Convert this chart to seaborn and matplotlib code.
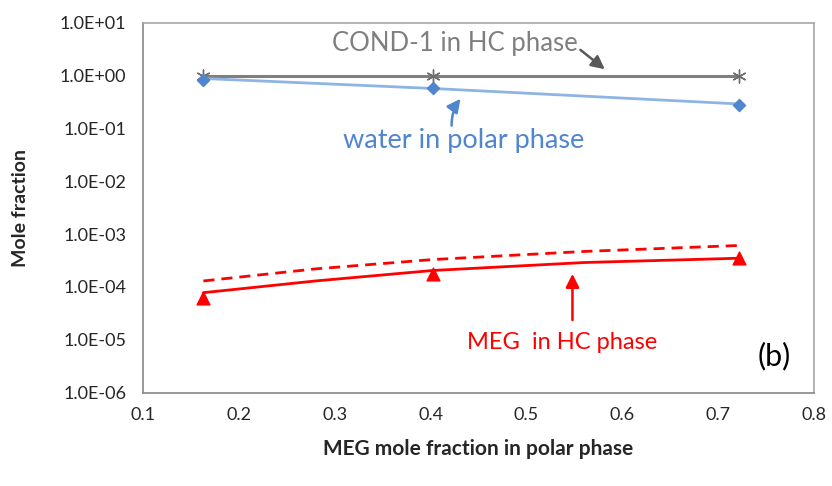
import numpy as np
import pandas as pd
import matplotlib
matplotlib.use("Agg")
import matplotlib.pyplot as plt
import seaborn as sns
from matplotlib.ticker import LogLocator, MultipleLocator, FuncFormatter

x_pts = [0.163, 0.402, 0.722]
cond1_pts = [1.0, 1.0, 1.0]
water_pts = [0.84, 0.59, 0.28]
water_line = [0.88, 0.57, 0.29]
meg_pts = [6.1e-5, 1.75e-4, 3.5e-4]

x_curve = [0.163, 0.28, 0.402, 0.56, 0.722]
meg_solid = [7.8e-5, 1.3e-4, 2.05e-4, 2.9e-4, 3.5e-4]
meg_dashed = [1.3e-4, 2.2e-4, 3.3e-4, 4.7e-4, 6.1e-4]

sns.set_style("white")
plt.rcParams["font.family"] = ["Lato", "DejaVu Sans"]

fig = plt.figure(figsize=(8.32, 4.86), dpi=100)
ax = fig.add_axes([0.1719, 0.192, 0.8065, 0.7613])

sns.lineplot(x=x_pts, y=cond1_pts, ax=ax, color="#7f7f7f", lw=2.2)
sns.lineplot(x=x_pts, y=water_line, ax=ax, color="#8db4e2", lw=2)
sns.lineplot(x=x_curve, y=meg_solid, ax=ax, color="#ff0000", lw=2)
sns.lineplot(x=x_curve, y=meg_dashed, ax=ax, color="#ff0000", lw=2, linestyle=(0, (4, 2.5)))

ax.scatter(x_pts, cond1_pts, marker=(6, 2, 0), s=90, color="#6e6e6e", lw=1, zorder=3)
ax.scatter(x_pts, water_pts, marker="D", s=38, color="#4f86cf", zorder=3)
ax.scatter(x_pts, meg_pts, marker="^", s=85, color="#ff0000", zorder=3)

ax.set_yscale("log")
ax.set_xlim(0.1, 0.8)
ax.set_ylim(1e-6, 1e1)
ax.xaxis.set_major_locator(MultipleLocator(0.1))
ax.xaxis.set_minor_locator(MultipleLocator(0.02))
ax.yaxis.set_major_locator(LogLocator(base=10, numticks=10))
ax.yaxis.set_minor_locator(LogLocator(base=10, subs=np.arange(2, 10), numticks=100))
ax.yaxis.set_major_formatter(FuncFormatter(lambda v, p: "1.0E%+03d" % int(round(np.log10(v)))))
ax.xaxis.set_major_formatter(FuncFormatter(lambda v, p: "%.1f" % v))

ax.tick_params(axis="both", which="major", direction="out", length=6, width=1,
               color="#868686", labelsize=13)
ax.tick_params(axis="both", which="minor", direction="in", length=4, width=0.8,
               color="#868686")
ax.tick_params(axis="y", which="major", pad=6)
ax.tick_params(axis="x", which="major", pad=4)
for s in ax.spines.values():
    s.set_color("#a6a6a6")
    s.set_linewidth(1.2)
ax.spines["left"].set_color("#868686")
ax.spines["bottom"].set_color("#868686")

ax.set_xlabel("MEG mole fraction in polar phase", fontsize=15, fontweight="bold", labelpad=12)
ax.set_ylabel("Mole fraction", fontsize=14, fontweight="bold", labelpad=22)

ax.text(0.425, 4.0, "COND-1 in HC phase", color="#7f7f7f", fontsize=18.5, ha="center", va="center")
ax.annotate("", xy=(0.584, 1.22), xytext=(0.554, 3.3),
            arrowprops=dict(arrowstyle="-|>,head_length=0.8,head_width=0.4", color="#595959", lw=1.8))
ax.text(0.434, 0.059, "water in polar phase", color="#4f86cf", fontsize=19.5, ha="center", va="center")
ax.annotate("", xy=(0.433, 0.4), xytext=(0.422, 0.1),
            arrowprops=dict(arrowstyle="-|>,head_length=0.8,head_width=0.4", color="#4f86cf", lw=1.8,
                            connectionstyle="arc3,rad=-0.2"))
ax.text(0.537, 9.0e-6, "MEG  in HC phase", color="#ff0000", fontsize=17, ha="center", va="center")
ax.annotate("", xy=(0.548, 2.0e-4), xytext=(0.548, 2.1e-5),
            arrowprops=dict(arrowstyle="-|>,head_length=0.8,head_width=0.4", color="#ff0000", lw=1.8))
ax.text(0.759, 5.0e-6, "(b)", color="black", fontsize=22, ha="center", va="center")

fig.savefig("out.png", dpi=100)
